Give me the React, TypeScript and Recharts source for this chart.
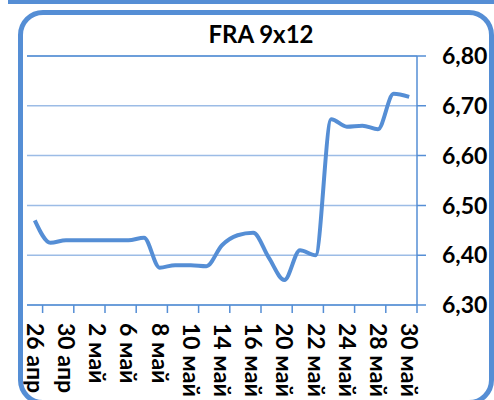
import React from "react";
import { LineChart, Line, XAxis, YAxis, CartesianGrid, ReferenceLine } from "recharts";

// business days, 26 Apr - 30 May
const dates = [
    "26 апр", "29 апр", "30 апр", "1 май", "2 май", "3 май", "6 май", "7 май", "8 май",
    "9 май", "10 май", "13 май", "14 май", "15 май", "16 май", "17 май", "20 май", "21 май",
    "22 май", "23 май", "24 май", "27 май", "28 май", "29 май", "30 май",
];
const fraRates = [
    6.47, 6.425, 6.43, 6.43, 6.43, 6.43, 6.43, 6.435, 6.375,
    6.38, 6.38, 6.378, 6.42, 6.44, 6.445, 6.395, 6.35, 6.41,
    6.40, 6.673, 6.658, 6.66, 6.653, 6.724, 6.718,
];
const yTicks = [6.3, 6.4, 6.5, 6.6, 6.7, 6.8];

const BLUE = "#558ED5";
const GRID = "#9CBCE6";
const FONT = "Lato, 'Open Sans', sans-serif";
const PLOT_W = 390;

const data = dates.map((d, i) => ({ date: d, rate: fraRates[i] }));

function DateTick(props: any) {
    const { x, y, payload } = props;
    const half = PLOT_W / dates.length / 2;
    const ty = y + 18;
    return (
        <g>
            <line x1={x + half} y1={y} x2={x + half} y2={y + 8} stroke={BLUE} strokeWidth={1.5} />
            <text
                x={x}
                y={ty}
                dy="0.35em"
                transform={`rotate(90 ${x} ${ty})`}
                textAnchor="start"
                fill="#000"
                fontFamily={FONT}
                fontWeight={700}
                fontSize={23}
            >
                {payload.value}
            </text>
        </g>
    );
}

export default function App() {
    return (
        <div style={{ position: "absolute", left: 0, top: 0, width: 494, height: 400, overflow: "hidden", background: "#fff" }}>
            <div style={{ position: "absolute", left: 8, top: 0, width: 486, height: 3.5, background: BLUE }} />
            <div
                style={{
                    position: "absolute",
                    left: 18,
                    top: 10,
                    width: 476,
                    height: 395,
                    boxSizing: "border-box",
                    border: `5px solid ${BLUE}`,
                    borderRadius: 25,
                    overflow: "hidden",
                }}
            >
                <div style={{ position: "absolute", left: -23, top: -15, width: 494, height: 400 }}>
                    <svg width={494} height={60} style={{ position: "absolute", left: 0, top: 0 }}>
                        <text x={261} y={43} textAnchor="middle" fontFamily={FONT} fontWeight={700} fontSize={24} fill="#000">
                            FRA 9x12
                        </text>
                    </svg>
                    <div style={{ position: "absolute", left: 0, top: 0 }}>
                        <LineChart width={494} height={400} data={data} margin={{ top: 56, right: 0, bottom: 0, left: 27 }}>
                            <CartesianGrid yAxisId="r" vertical={false} stroke={GRID} strokeWidth={1.5} />
                            <XAxis
                                dataKey="date"
                                scale="band"
                                interval={1}
                                height={95}
                                tickLine={false}
                                tickSize={0}
                                tickMargin={0}
                                axisLine={{ stroke: BLUE, strokeWidth: 1.5 }}
                                tick={<DateTick />}
                            />
                            <YAxis
                                yAxisId="l"
                                orientation="left"
                                width={0}
                                domain={[6.3, 6.8]}
                                ticks={yTicks}
                                tick={false}
                                tickLine={false}
                                axisLine={{ stroke: BLUE, strokeWidth: 1.5 }}
                            />
                            <YAxis
                                yAxisId="r"
                                orientation="right"
                                width={77}
                                domain={[6.3, 6.8]}
                                ticks={yTicks}
                                interval={0}
                                tickSize={9}
                                tickMargin={16}
                                tickLine={{ stroke: BLUE, strokeWidth: 1.5 }}
                                axisLine={{ stroke: BLUE, strokeWidth: 1.5 }}
                                tickFormatter={(v: number) => v.toFixed(2).replace(".", ",")}
                                tick={{ fill: "#000", fontFamily: FONT, fontWeight: 700, fontSize: 23 }}
                            />
                            <ReferenceLine yAxisId="r" y={6.8} stroke={BLUE} strokeWidth={1.5} />
                            <Line
                                yAxisId="r"
                                type="monotone"
                                dataKey="rate"
                                stroke={BLUE}
                                strokeWidth={4}
                                dot={false}
                                activeDot={false}
                                isAnimationActive={false}
                            />
                        </LineChart>
                    </div>
                </div>
            </div>
        </div>
    );
}
